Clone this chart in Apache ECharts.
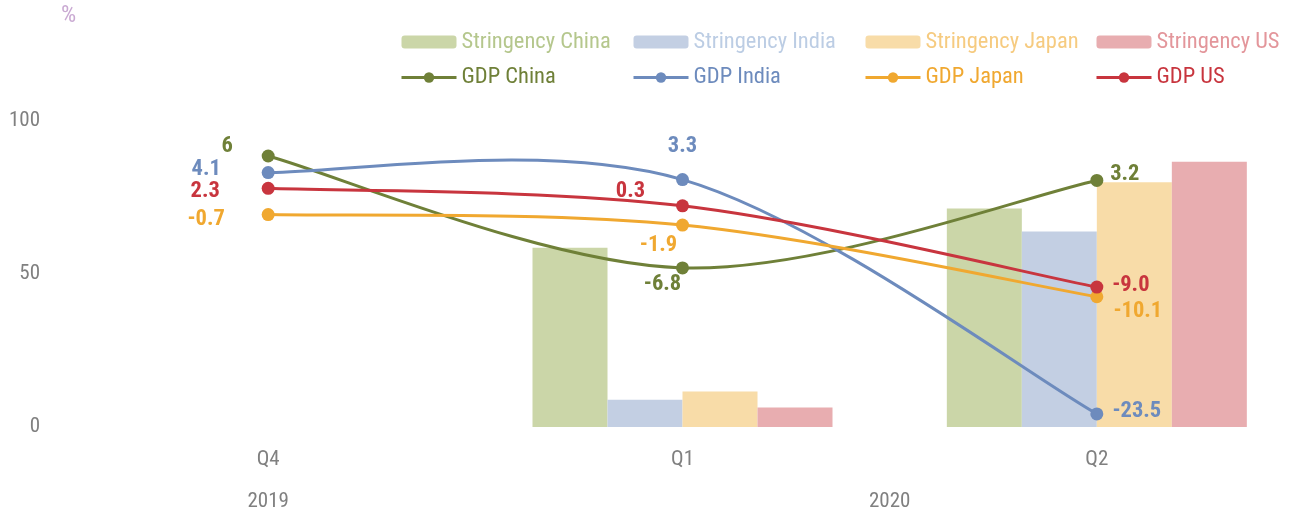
<!DOCTYPE html>
<html>
<head>
<meta charset="utf-8">
<script src="https://cdn.jsdelivr.net/npm/echarts@6/dist/echarts.min.js"></script>
<style>
html, body { margin: 0; padding: 0; background: #fff; }
#chart { width: 1290px; height: 509px; }
</style>
</head>
<body>
<div id="chart"></div>
<script>
// categories and tick labels
const quarters = ['Q4', 'Q1', 'Q2'];
const years = ['', '2019', '', '', '2020', '', ''];

// stringency index (left axis, %)
const stringencyChina = [null, 58.6, 71.4];
const stringencyIndia = [null, 8.9, 63.9];
const stringencyJapan = [null, 11.6, 80.0];
const stringencyUS = [null, 6.4, 86.7];

// GDP growth (hidden right axis)
const gdpChina = [6, -6.8, 3.2];
const gdpIndia = [4.1, 3.3, -23.5];
const gdpJapan = [-0.7, -1.9, -10.1];
const gdpUS = [2.3, 0.3, -9.0];
const gdpChinaText = ['6', '-6.8', '3.2'];
const gdpIndiaText = ['4.1', '3.3', '-23.5'];
const gdpJapanText = ['-0.7', '-1.9', '-10.1'];
const gdpUSText = ['2.3', '0.3', '-9.0'];

const FONT = '"Roboto Condensed", Roboto, sans-serif';
const axisGrey = '#808080';

// label offset from dot centre (style only)
const labelOffsets = {
    china: [[-41, -10], [-20, 16], [28, -6]],
    india: [[-62, -3], [0, -33], [40, -3]],
    japan: [[-62, 5], [-24, 20], [41, 15]],
    us: [[-63, 3], [-52, -14], [34, -2]],
};

function barSeries(name, data, color) {
    return {
        name: name,
        type: 'bar',
        yAxisIndex: 0,
        barWidth: 75,
        barGap: '0%',
        itemStyle: { color: color },
        data: data,
    };
}

// dots + labels (the curve itself is drawn by curveSeries)
function lineSeries(name, data, texts, offsets, color) {
    return {
        name: name,
        type: 'line',
        yAxisIndex: 1,
        symbol: 'circle',
        symbolSize: 13,
        z: 5,
        lineStyle: { width: 3, color: color, opacity: 0 },
        itemStyle: { color: color },
        data: data.map((v, i) => ({
            value: v,
            label: {
                show: true,
                position: 'inside',
                offset: offsets[i],
                formatter: texts[i],
                color: color,
                fontFamily: FONT,
                fontWeight: 'bold',
                fontSize: 22.5,
            },
        })),
    };
}

// spreadsheet-style smoothed curve through the data points
function curveSeries(name, values, color) {
    const n = values.length;
    return {
        name: name + ' curve',
        type: 'custom',
        yAxisIndex: 1,
        z: 4,
        silent: true,
        data: values.map((v, i) => [i, v]),
        encode: { x: 0, y: 1 },
        renderItem: function (params, api) {
            const i = params.dataIndex;
            if (i >= n - 1) return null;
            const pt = k => {
                const j = Math.max(0, Math.min(n - 1, k));
                return api.coord([j, values[j]]);
            };
            const p0 = pt(i - 1), p1 = pt(i), p2 = pt(i + 1), p3 = pt(i + 2);
            return {
                type: 'bezierCurve',
                shape: {
                    x1: p1[0], y1: p1[1],
                    x2: p2[0], y2: p2[1],
                    cpx1: p1[0] + (p2[0] - p0[0]) / 6,
                    cpy1: p1[1] + (p2[1] - p0[1]) / 6,
                    cpx2: p2[0] - (p3[0] - p1[0]) / 6,
                    cpy2: p2[1] - (p3[1] - p1[1]) / 6,
                },
                style: { stroke: color, lineWidth: 3, fill: null },
            };
        },
    };
}

function legendCol(left, names, colors) {
    return {
        orient: 'vertical',
        left: left,
        top: 30.5,
        padding: 0,
        itemGap: 12.5,
        itemWidth: 55,
        itemHeight: 13,
        lineStyle: { opacity: 1, width: 3 },
        data: names.map((n, i) => ({ name: n, textStyle: { color: colors[i] } })),
        textStyle: { fontFamily: FONT, fontSize: 22.5, lineHeight: 22 },
    };
}

const chart = echarts.init(document.getElementById('chart'));
chart.setOption({
    animation: false,
    textStyle: { fontFamily: FONT },
    legend: [
        legendCol(400, ['Stringency China', 'GDP China'], ['#b5c78d', '#6f8038']),
        legendCol(632, ['Stringency India', 'GDP India'], ['#bccde4', '#6d8bbd']),
        legendCol(864, ['Stringency Japan', 'GDP Japan'], ['#f6cb80', '#f0a830']),
        legendCol(1095, ['Stringency US', 'GDP US'], ['#e3969b', '#c8353e']),
    ],
    grid: { left: 61, right: -14, top: 121, bottom: 82, outerBoundsMode: 'none' },
    xAxis: [
        {
            type: 'category',
            data: quarters,
            axisLine: { show: false },
            axisTick: { show: false },
            axisLabel: { color: axisGrey, fontSize: 21, margin: 22, fontFamily: FONT },
        },
        {
            type: 'category',
            data: years,
            boundaryGap: false,
            position: 'bottom',
            offset: 42,
            axisLine: { show: false },
            axisTick: { show: false },
            axisLabel: { color: axisGrey, fontSize: 21, margin: 22, interval: 0, fontFamily: FONT },
        },
    ],
    yAxis: [
        {
            type: 'value',
            min: 0,
            max: 100,
            interval: 50,
            name: '%',
            nameGap: 93,
            nameTextStyle: { color: '#c9a9d2', fontSize: 24, align: 'left', fontFamily: FONT },
            axisLine: { show: false },
            axisTick: { show: false },
            splitLine: { show: false },
            axisLabel: { color: axisGrey, fontSize: 21, margin: 21, padding: [6, 0, 0, 0], fontFamily: FONT },
        },
        { type: 'value', min: -25, max: 10, show: false, splitLine: { show: false } },
    ],
    series: [
        barSeries('Stringency China', stringencyChina, '#cbd6a8'),
        barSeries('Stringency India', stringencyIndia, '#c3cfe3'),
        barSeries('Stringency Japan', stringencyJapan, '#f8dca8'),
        barSeries('Stringency US', stringencyUS, '#e8adb0'),
        lineSeries('GDP China', gdpChina, gdpChinaText, labelOffsets.china, '#6f8038'),
        lineSeries('GDP India', gdpIndia, gdpIndiaText, labelOffsets.india, '#6d8bbd'),
        lineSeries('GDP Japan', gdpJapan, gdpJapanText, labelOffsets.japan, '#f0a830'),
        lineSeries('GDP US', gdpUS, gdpUSText, labelOffsets.us, '#c8353e'),
        curveSeries('GDP China', gdpChina, '#6f8038'),
        curveSeries('GDP India', gdpIndia, '#6d8bbd'),
        curveSeries('GDP Japan', gdpJapan, '#f0a830'),
        curveSeries('GDP US', gdpUS, '#c8353e'),
    ],
});
</script>
</body>
</html>
